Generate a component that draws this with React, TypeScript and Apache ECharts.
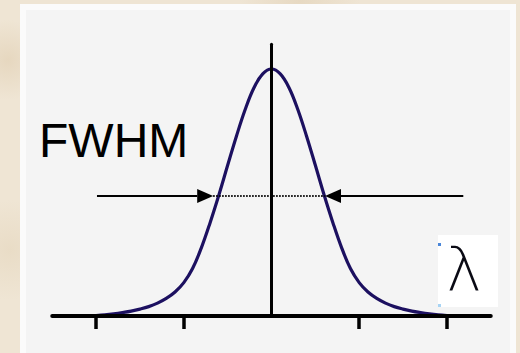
import React, { useEffect, useRef } from "react";
import * as echarts from "echarts";

// Spectral line profile: wavelength offset (in tick units) and relative intensity
const curveX = [
  -2.0, -1.9, -1.8, -1.7, -1.6, -1.5, -1.4, -1.3, -1.2, -1.1, -1.0, -0.9, -0.8, -0.7, -0.6, -0.5, -0.4, -0.3, -0.2, -0.1,
  0,
  0.1, 0.2, 0.3, 0.4, 0.5, 0.6, 0.7, 0.8, 0.9, 1.0, 1.1, 1.2, 1.3, 1.4, 1.5, 1.6, 1.7, 1.8, 1.9, 2.0,
];
const curveY = [
  0.002, 0.005, 0.009, 0.014, 0.02, 0.028, 0.038, 0.052, 0.071, 0.097, 0.135, 0.192, 0.276, 0.378, 0.49, 0.61, 0.728, 0.836, 0.924, 0.98,
  1.0,
  0.98, 0.924, 0.836, 0.728, 0.61, 0.49, 0.378, 0.276, 0.192, 0.135, 0.097, 0.071, 0.052, 0.038, 0.028, 0.02, 0.014, 0.009, 0.005, 0.002,
];

// Tick positions along the wavelength axis (no tick at line centre)
const tickValues = [-2, -1, 1, 2];

// Width marker at half maximum: arrow tails, arrow tips and the level
const halfLevel = 0.486;
const arrowTails = [-1.99, 2.187];
const arrowTips = [-0.665, 0.61];

const widthLabel = "FWHM";
const axisSymbol = "λ";

export default function App() {
  const ref = useRef<HTMLDivElement>(null);

  useEffect(() => {
    if (!ref.current) return;
    const chart = echarts.init(ref.current, undefined, { renderer: "svg" });

    const curveData = curveX.map((x, i) => [x, curveY[i]]);
    const arrowData = arrowTails.map((t, i) => [t, arrowTips[i], halfLevel]);
    const dottedData = [
      [arrowTips[0], halfLevel],
      [arrowTips[1], halfLevel],
    ];

    chart.setOption({
      animation: false,
      backgroundColor: "transparent",
      grid: { left: 52.25, right: 29.25, top: 44.3, bottom: 37 },
      xAxis: {
        type: "value",
        min: -2.5,
        max: 2.5,
        z: 3,
        axisLine: { show: true, onZero: true, lineStyle: { color: "#000", width: 4, cap: "round" } },
        axisTick: {
          show: true,
          customValues: tickValues,
          length: 13,
          lineStyle: { color: "#000", width: 3.5 },
        },
        axisLabel: { show: false },
        splitLine: { show: false },
      },
      yAxis: {
        type: "value",
        min: 0,
        max: 1.1,
        z: 3,
        axisLine: { show: true, onZero: true, lineStyle: { color: "#000", width: 3 } },
        axisTick: { show: false },
        axisLabel: { show: false },
        splitLine: { show: false },
      },
      graphic: [
        {
          type: "rect",
          z: -10,
          shape: { x: 20, y: 4, width: 496, height: 360 },
          style: { fill: "#fbfbfb" },
        },
        {
          type: "rect",
          z: -9,
          shape: { x: 26, y: 10, width: 484, height: 350 },
          style: { fill: "#f4f4f4" },
        },
        {
          type: "text",
          z: 5,
          x: 39,
          y: 140.5,
          style: {
            text: widthLabel,
            font: '48px "Liberation Sans", Arial, sans-serif',
            fill: "#000",
            align: "left",
            verticalAlign: "middle",
          },
        },
        {
          type: "rect",
          z: 5,
          shape: { x: 438, y: 235, width: 60, height: 72 },
          style: { fill: "#ffffff" },
        },
        {
          type: "rect",
          z: 6,
          shape: { x: 438, y: 243, width: 3, height: 3 },
          style: { fill: "#4a86d8" },
        },
        {
          type: "rect",
          z: 6,
          shape: { x: 438, y: 304, width: 3, height: 3 },
          style: { fill: "#a8d4f4" },
        },
        {
          type: "text",
          z: 6,
          x: 464,
          y: 269,
          style: {
            text: axisSymbol,
            font: '200 60px "DejaVu Sans", sans-serif',
            fill: "#0a0a14",
            align: "center",
            verticalAlign: "middle",
          },
        },
      ],
      series: [
        {
          type: "line",
          z: 2,
          data: curveData,
          smooth: 0.4,
          showSymbol: false,
          symbol: "none",
          lineStyle: { color: "#1c1060", width: 3.2 },
        },
        {
          type: "line",
          z: 4,
          data: dottedData,
          showSymbol: false,
          symbol: "none",
          lineStyle: { color: "#000", width: 2, type: [1.5, 1.5] },
        },
        {
          type: "custom",
          z: 4,
          clip: false,
          data: arrowData,
          encode: { x: [0, 1], y: 2 },
          renderItem: (_params: any, api: any) => {
            const tail = api.coord([api.value(0), api.value(2)]);
            const tip = api.coord([api.value(1), api.value(2)]);
            const dir = Math.sign(tip[0] - tail[0]);
            const headLen = 16;
            const headHalf = 7;
            const base = tip[0] - dir * headLen;
            return {
              type: "group",
              children: [
                {
                  type: "line",
                  shape: { x1: tail[0], y1: tail[1], x2: base, y2: tip[1] },
                  style: { stroke: "#000", lineWidth: 2 },
                },
                {
                  type: "polygon",
                  shape: {
                    points: [
                      [tip[0], tip[1]],
                      [base, tip[1] - headHalf],
                      [base, tip[1] + headHalf],
                    ],
                  },
                  style: { fill: "#000" },
                },
              ],
            };
          },
        },
      ],
    });

    return () => chart.dispose();
  }, []);

  return (
    <div
      style={{
        position: "fixed",
        left: 0,
        top: 0,
        width: 520,
        height: 353,
        overflow: "hidden",
        background:
          "radial-gradient(circle at 8px 60px, #e6d7bf 0, transparent 40px), radial-gradient(circle at 10px 250px, #e9dcc6 0, transparent 50px), radial-gradient(circle at 300px 0px, #e7d9c2 0, transparent 60px), #efe5d4",
      }}
    >
      <div ref={ref} style={{ width: 520, height: 353 }} />
    </div>
  );
}
